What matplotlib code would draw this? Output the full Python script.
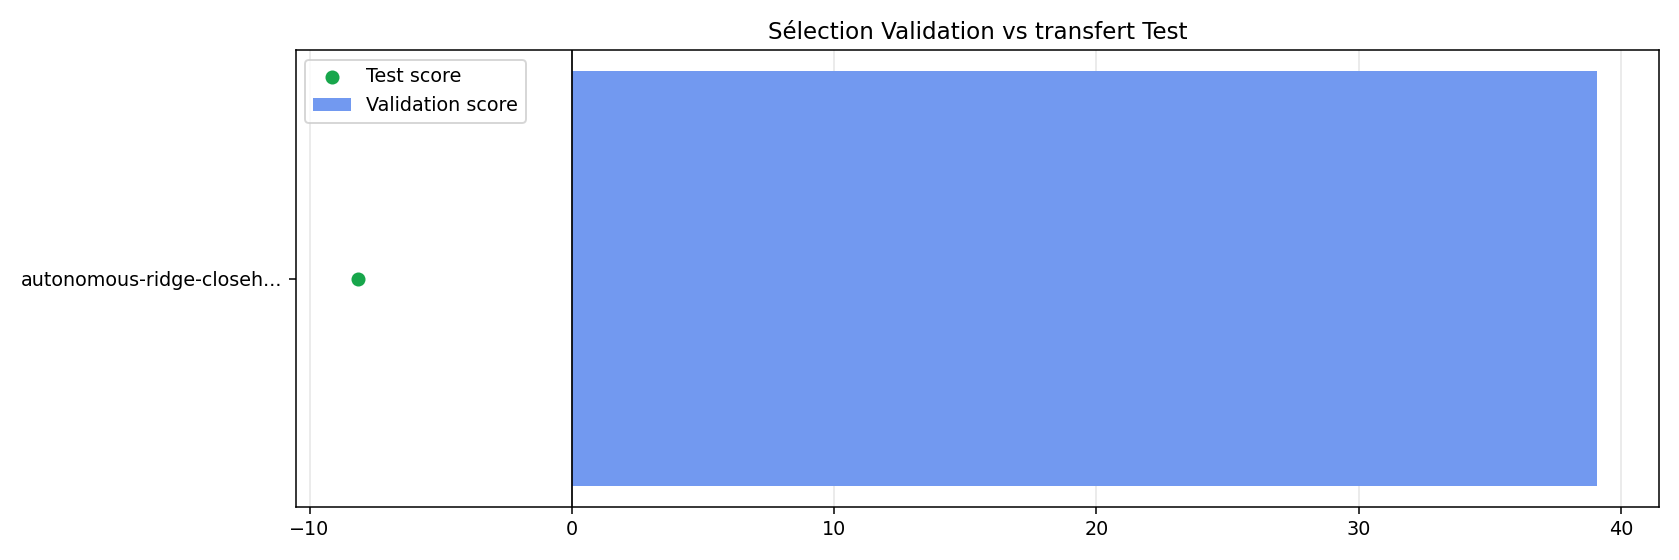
#!/usr/bin/env python3

import numpy as np
import matplotlib
matplotlib.use("Agg")
import matplotlib.pyplot as plt

runs = ["autonomous-ridge-closeh..."]
val_scores = [39.1]
test_scores = [-8.17]


def main():
    dpi = 137.8
    fig, ax = plt.subplots(figsize=(1680 / dpi, 560 / dpi), dpi=dpi)
    y = np.arange(len(runs))
    ax.barh(y, val_scores, color="#7299f0", label="Validation score", zorder=2)
    ax.scatter(test_scores, y, color="#17a64b", s=40, label="Test score", zorder=3)
    ax.axvline(0, color="black", linewidth=0.9, zorder=4)
    ax.set_yticks(y)
    ax.set_yticklabels(runs)
    ax.grid(axis="x", color="#e6e6e6", linewidth=0.8, zorder=0)
    ax.set_axisbelow(True)
    ax.set_title("Sélection Validation vs transfert Test")
    ax.legend(loc="upper left")
    plt.tight_layout()
    fig.savefig("out.png", dpi=dpi)


if __name__ == "__main__":
    main()
